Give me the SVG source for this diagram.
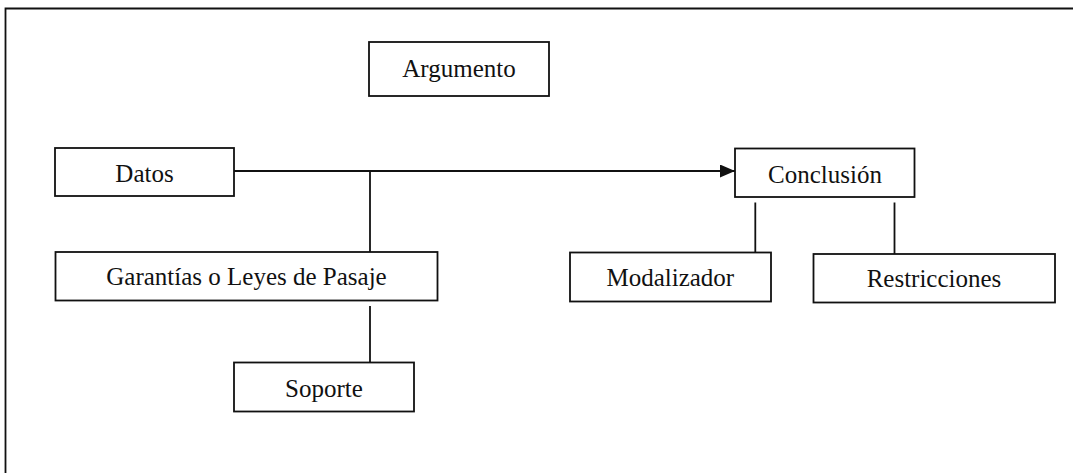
<svg xmlns="http://www.w3.org/2000/svg" width="1073" height="473" viewBox="0 0 1073 473">
<style>
.box{fill:#fff;stroke:#111;stroke-width:1.8}
.lbl{font-family:"Liberation Serif","Times New Roman",serif;font-size:25px;fill:#111;text-anchor:middle}
.ln{fill:none;stroke:#111;stroke-width:1.8}
</style>
<defs>
<marker id="arr" markerWidth="15" markerHeight="13" refX="15" refY="6.5" orient="auto" markerUnits="userSpaceOnUse">
<path d="M0,0 L15,6.5 L0,13 Z" fill="#111"/>
</marker>
</defs>
<rect width="1073" height="473" fill="#fff"/>
<path class="ln" d="M5.5,473 V8.5 H1073" stroke-width="2.2"/>
<g id="connectors">
<path class="ln" d="M234,171 H735" marker-end="url(#arr)"/>
<path class="ln" d="M370,171 V252"/>
<path class="ln" d="M370,306 V362"/>
<path class="ln" d="M755.3,202.5 V252"/>
<path class="ln" d="M894.5,202.5 V254"/>
</g>
<g id="argumento">
<rect class="box" x="369" y="42" width="180" height="54"/>
<text class="lbl" x="459" y="77">Argumento</text>
</g>
<g id="datos">
<rect class="box" x="55" y="148" width="179" height="48"/>
<text class="lbl" x="144.5" y="181.5">Datos</text>
</g>
<g id="conclusion">
<rect class="box" x="735" y="148.5" width="179.5" height="48.5"/>
<text class="lbl" x="825" y="182.5">Conclusión</text>
</g>
<g id="garantias">
<rect class="box" x="55.5" y="252" width="382" height="48.5"/>
<text class="lbl" x="246.5" y="285">Garantías o Leyes de Pasaje</text>
</g>
<g id="modalizador">
<rect class="box" x="570" y="252.5" width="201" height="49"/>
<text class="lbl" x="670.3" y="286">Modalizador</text>
</g>
<g id="restricciones">
<rect class="box" x="813.5" y="254" width="241.5" height="48.5"/>
<text class="lbl" x="934" y="286.5">Restricciones</text>
</g>
<g id="soporte">
<rect class="box" x="234" y="362.5" width="180" height="49"/>
<text class="lbl" x="324" y="396.5">Soporte</text>
</g>
</svg>
